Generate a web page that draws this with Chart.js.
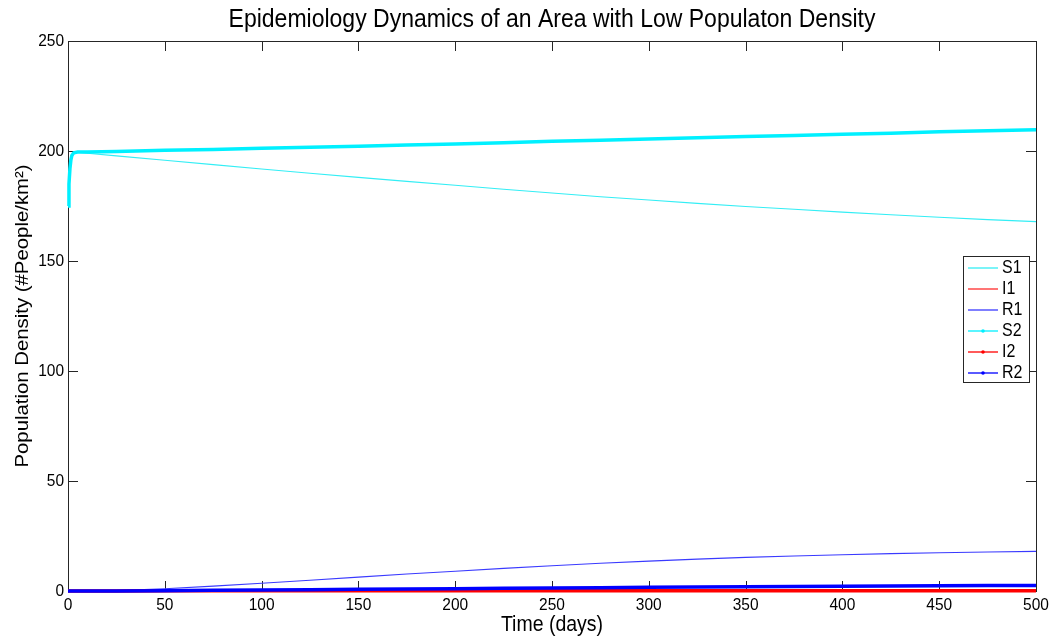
<!DOCTYPE html>
<html>
<head>
<meta charset="utf-8">
<script src="https://cdn.jsdelivr.net/npm/chart.js@4.4.0/dist/chart.umd.min.js"></script>
<style>
  html, body { margin: 0; padding: 0; background: #fff; }
  canvas { display: block; }
</style>
</head>
<body>
<canvas id="chart" width="1053" height="639"></canvas>
<script>
// time points (days) and the six compartments
var days = [0, 0.5, 1, 1.5, 2, 3, 5, 10, 25, 50, 75, 100, 125, 150, 175, 200, 225, 250, 275, 300, 325, 350, 375, 400, 425, 450, 475, 500];
var s1 = [175, 185, 192, 196, 198, 199.2, 199.4, 199, 197.8, 195.8, 193.8, 191.8, 189.9, 188, 186.2, 184.4, 182.6, 180.9, 179.2, 177.7, 176.2, 174.8, 173.5, 172.2, 171, 169.9, 168.8, 167.9];
var i1 = [0, 0, 0, 0, 0, 0, 0.01, 0.03, 0.1, 0.25, 0.35, 0.4, 0.43, 0.44, 0.44, 0.42, 0.4, 0.38, 0.35, 0.32, 0.3, 0.27, 0.25, 0.22, 0.2, 0.18, 0.16, 0.15];
var r1 = [0, 0, 0, 0, 0, 0, 0, 0.02, 0.2, 1.0, 2.2, 3.5, 4.9, 6.3, 7.7, 9.0, 10.3, 11.5, 12.6, 13.6, 14.5, 15.3, 15.9, 16.5, 17.0, 17.4, 17.7, 18.0];
var s2 = [175, 185, 192, 196, 198, 199.2, 199.5, 199.6, 199.8, 200.3, 200.7, 201.2, 201.7, 202.2, 202.7, 203.2, 203.8, 204.4, 204.9, 205.5, 206, 206.6, 207.1, 207.6, 208.1, 208.7, 209.2, 209.7];
var i2 = [0, 0, 0, 0, 0, 0, 0.01, 0.02, 0.05, 0.08, 0.1, 0.12, 0.13, 0.14, 0.15, 0.15, 0.15, 0.15, 0.15, 0.15, 0.15, 0.14, 0.14, 0.14, 0.13, 0.13, 0.13, 0.12];
var r2 = [0, 0, 0, 0, 0, 0, 0, 0.01, 0.05, 0.15, 0.3, 0.45, 0.6, 0.75, 0.9, 1.05, 1.2, 1.35, 1.5, 1.65, 1.8, 1.92, 2.05, 2.15, 2.25, 2.35, 2.45, 2.5];

var xTicks = [0, 50, 100, 150, 200, 250, 300, 350, 400, 450, 500];
var yTicks = [0, 50, 100, 150, 200, 250];

var FONT = '"Liberation Sans", Arial, sans-serif';
var SY = 1.1;   // the source image is a little stretched vertically

function pts(arr) {
  return days.map(function(d, i) { return { x: d, y: arr[i] }; });
}

function ds(label, arr, color, thick, idx) {
  return {
    label: label,
    data: pts(arr),
    borderColor: color,
    backgroundColor: color,
    borderWidth: thick ? 3.5 : 1.1,
    pointRadius: 0,
    tension: 0,
    clip: false,
    marker: thick,
    order: 5 - idx
  };
}

function txt(ctx, s, x, y, size, align, baseline) {
  ctx.save();
  ctx.translate(x, y);
  ctx.scale(1, SY);
  ctx.font = size + 'px ' + FONT;
  ctx.fillStyle = '#000';
  ctx.textAlign = align;
  ctx.textBaseline = baseline;
  ctx.fillText(s, 0, 0);
  ctx.restore();
}

var axesPlugin = {
  id: 'matlabAxes',
  beforeDatasetsDraw: function(chart) {
    var ctx = chart.ctx, a = chart.chartArea;
    var xs = chart.scales.x, ys = chart.scales.y;
    ctx.save();
    ctx.strokeStyle = '#262626';
    ctx.lineWidth = 1;
    ctx.strokeRect(Math.round(a.left) + 0.5, Math.round(a.top) + 0.5,
                   Math.round(a.right - a.left), Math.round(a.bottom - a.top));
    ctx.beginPath();
    xTicks.forEach(function(v) {
      var px = Math.round(xs.getPixelForValue(v)) + 0.5;
      ctx.moveTo(px, a.bottom); ctx.lineTo(px, a.bottom - 10);
      ctx.moveTo(px, a.top); ctx.lineTo(px, a.top + 10);
    });
    yTicks.forEach(function(v) {
      var py = Math.round(ys.getPixelForValue(v)) + 0.5;
      ctx.moveTo(a.left, py); ctx.lineTo(a.left + 10, py);
      ctx.moveTo(a.right, py); ctx.lineTo(a.right - 10, py);
    });
    ctx.stroke();
    ctx.restore();
  },
  afterDraw: function(chart) {
    var ctx = chart.ctx, a = chart.chartArea;
    var xs = chart.scales.x, ys = chart.scales.y;

    xTicks.forEach(function(v) {
      txt(ctx, String(v), xs.getPixelForValue(v), 610, 15.5, 'center', 'alphabetic');
    });
    yTicks.forEach(function(v) {
      txt(ctx, String(v), a.left - 4, ys.getPixelForValue(v), 15.5, 'right', 'middle');
    });

    txt(ctx, 'Epidemiology Dynamics of an Area with Low Populaton Density',
        (a.left + a.right) / 2, 27, 23, 'center', 'alphabetic');
    txt(ctx, 'Time (days)', (a.left + a.right) / 2, 631, 19.5, 'center', 'alphabetic');

    // y label, rotated
    ctx.save();
    ctx.translate(28, (a.top + a.bottom) / 2);
    ctx.rotate(-Math.PI / 2);
    ctx.scale(SY, 1);
    ctx.font = '18.5px ' + FONT;
    ctx.fillStyle = '#000';
    ctx.textAlign = 'center';
    ctx.textBaseline = 'alphabetic';
    ctx.fillText('Population Density (#People/km\u00B2)', 0, 0);
    ctx.restore();

    // legend box inside the axes
    var lx = 963, ly = 256, lw = 66, lh = 126;
    ctx.save();
    ctx.fillStyle = '#fff';
    ctx.fillRect(lx, ly, lw, lh);
    ctx.strokeStyle = '#262626';
    ctx.lineWidth = 1;
    ctx.strokeRect(lx + 0.5, ly + 0.5, lw, lh);
    chart.data.datasets.forEach(function(d, i) {
      var y = 268 + i * 21;
      ctx.strokeStyle = d.borderColor;
      ctx.lineWidth = 1.3;
      ctx.beginPath();
      ctx.moveTo(968, y); ctx.lineTo(998, y);
      ctx.stroke();
      if (d.marker) {
        ctx.fillStyle = d.borderColor;
        ctx.beginPath();
        ctx.arc(983, y, 1.8, 0, Math.PI * 2);
        ctx.fill();
      }
      txt(ctx, d.label, 1002, y, 16, 'left', 'middle');
    });
    ctx.restore();
  }
};

new Chart(document.getElementById('chart'), {
  type: 'line',
  data: {
    datasets: [
      ds('S1', s1, '#33EEF5', false, 0),
      ds('I1', i1, '#FF2A2A', false, 1),
      ds('R1', r1, '#3A3AFF', false, 2),
      ds('S2', s2, '#00F0FF', true, 3),
      ds('I2', i2, '#FF0000', true, 4),
      ds('R2', r2, '#0000FF', true, 5)
    ]
  },
  options: {
    responsive: false,
    animation: false,
    devicePixelRatio: 1,
    layout: { padding: { left: 68, right: 17, top: 41, bottom: 48 } },
    scales: {
      x: { type: 'linear', min: 0, max: 500, display: false },
      y: { type: 'linear', min: 0, max: 250, display: false }
    },
    plugins: {
      legend: { display: false },
      tooltip: { enabled: false }
    }
  },
  plugins: [axesPlugin]
});
</script>
</body>
</html>
